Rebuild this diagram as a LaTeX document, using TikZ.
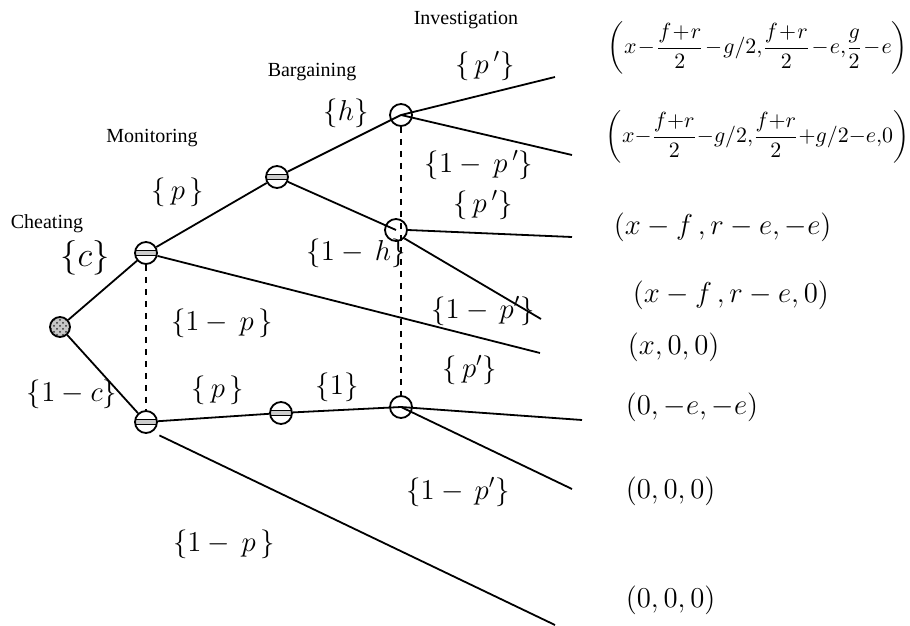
\documentclass[tikz,border=0pt]{standalone}
\usepackage{amsmath}
\usepackage{fontspec}
\setmainfont{Liberation Serif}
\usetikzlibrary{patterns}
\tikzset{
  chance/.style={circle, draw, minimum size=10pt, inner sep=0pt,
    preaction={fill=gray!45}, pattern=crosshatch dots, pattern color=black!80},
  striped/.style={circle, draw, fill=white, minimum size=11pt, inner sep=0pt,
    path picture={
      \fill[gray!40] ([yshift=1.4pt]path picture bounding box.west) rectangle ([yshift=-1.4pt]path picture bounding box.east);
      \draw[line width=0.5pt] ([yshift=1.4pt]path picture bounding box.west) -- ([yshift=1.4pt]path picture bounding box.east);
      \draw[line width=0.5pt] ([yshift=-1.4pt]path picture bounding box.west) -- ([yshift=-1.4pt]path picture bounding box.east);
    }},
  hollow/.style={circle, draw, minimum size=11pt, inner sep=0pt},
  prob/.style={font=\fontsize{14}{16}\selectfont},
  bigprob/.style={font=\fontsize{19}{22}\selectfont},
  stage/.style={font=\fontsize{10}{12}\selectfont},
  payoff/.style={anchor=west, inner sep=0pt, font=\fontsize{13.5}{16}\selectfont},
  bigpayoff/.style={anchor=west, inner sep=0pt, font=\fontsize{10.7}{13}\selectfont},
}

\begin{document}
\begin{tikzpicture}[x=0.5pt, y=-0.5pt, line width=0.9pt]
  \useasboundingbox (0,0) rectangle (910,626);
  % decision nodes
  \node[chance] (root) at (60,327) {};
  \node[striped] (mon1) at (146,253) {};
  \node[striped] (mon2) at (146,422) {};
  \node[striped] (bar1) at (277,177) {};
  \node[striped] (bar2) at (281,413) {};
  \node[hollow] (inv1) at (401,115) {};
  \node[hollow] (inv2) at (396,230) {};
  \node[hollow] (inv3) at (401,407) {};
  % ends of the branches
  \coordinate (end1) at (555,77);
  \coordinate (end2) at (572,155);
  \coordinate (end3) at (572,237);
  \coordinate (end4) at (541,319);
  \coordinate (end5) at (540,353);
  \coordinate (end6) at (582,420);
  \coordinate (end7) at (572,489);
  \coordinate (end8) at (555,625);
  % branches
  \draw (root) -- (mon1);
  \draw (root) -- (mon2);
  \draw (mon1) -- (bar1);
  \draw (mon1) -- (end5);
  \draw (bar1) -- (inv1.center);
  \draw (bar1) -- (inv2.center);
  \draw (inv1.center) -- (end1);
  \draw (inv1.center) -- (end2);
  \draw (inv2.east) -- (end3);
  \draw (inv2.south east) -- (end4);
  \draw (mon2) -- (bar2);
  \draw (mon2.south east) ++(5,5) -- (end8);
  \draw (bar2) -- (inv3.center);
  \draw (inv3.center) -- (end6);
  \draw (inv3.center) -- (end7);
  % information sets
  \draw[dashed, line width=0.7pt] (mon1) -- (mon2);
  \draw[dashed, line width=0.7pt] (inv1) -- (inv3);
  % stages
  \node[stage] (stg1) at (47,224) {Cheating};
  \node[stage] (stg2) at (152,138) {Monitoring};
  \node[stage] (stg3) at (312,72) {Bargaining};
  \node[stage] (stg4) at (466,20) {Investigation};
  % probabilities
  \node[bigprob] (pc) at (85,258) {$\{c\}$};
  \node[prob] (pnc) at (72,394) {$\{1-c\}$};
  \node[prob] (pm1) at (178,192) {$\{\,p\,\}$};
  \node[prob] (pnm1) at (222,323) {$\{1-\,p\,\}$};
  \node[prob] (pm2) at (218,390) {$\{\,p\,\}$};
  \node[prob] (pnm2) at (224,544) {$\{1-\,p\,\}$};
  \node[prob] (ph) at (346,113) {$\{h\}$};
  \node[prob] (pnh) at (356,253) {$\{1-\,h\}$};
  \node[prob] (pone) at (337,387) {$\{1\}$};
  \node[prob] (pi1) at (485,66) {$\{\,p\,'\}$};
  \node[prob] (pni1) at (479,165) {$\{1-\,p\,'\}$};
  \node[prob] (pi2) at (483,205) {$\{\,p\,'\}$};
  \node[prob] (pni2) at (483,311) {$\{1-\,p'\}$};
  \node[prob] (pi3) at (470,370) {$\{\,p'\}$};
  \node[prob] (pni3) at (458,492) {$\{1-\,p'\}$};
  % payoffs
  \node[bigpayoff] (pay1) at (607,48)
    {$\medmuskip=1mu\left(x-\dfrac{f+r}{2}-g/2{,}\dfrac{f+r}{2}-e{,}\dfrac{g}{2}-e\right)$};
  \node[bigpayoff] (pay2) at (605,137)
    {$\medmuskip=0mu\left(x-\dfrac{f+r}{2}-g/2{,}\dfrac{f+r}{2}+g/2-e{,}0\right)$};
  \node[payoff] (pay3) at (613,227) {$\left(x-f\,,r-e,-e\right)$};
  \node[payoff] (pay4) at (632,295) {$\left(x-f\,,r-e,0\right)$};
  \node[payoff] (pay5) at (627,347) {$\left(x,0,0\right)$};
  \node[payoff] (pay6) at (625,407) {$\left(0,-e,-e\right)$};
  \node[payoff] (pay7) at (625,491) {$\left(0,0,0\right)$};
  \node[payoff] (pay8) at (625,600) {$\left(0,0,0\right)$};
\end{tikzpicture}
\end{document}
